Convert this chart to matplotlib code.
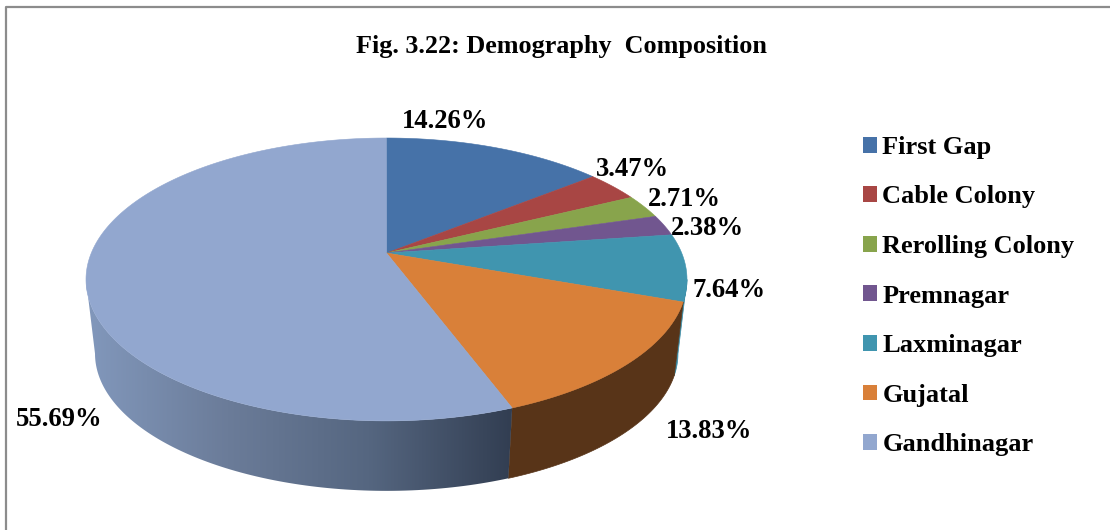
import numpy as np
import matplotlib
matplotlib.use('Agg')
import matplotlib.pyplot as plt
from matplotlib.colors import LinearSegmentedColormap
from matplotlib.patches import Patch, Polygon

names = ['First Gap', 'Cable Colony', 'Rerolling Colony', 'Premnagar',
         'Laxminagar', 'Gujatal', 'Gandhinagar']
shares = [14.26, 3.47, 2.71, 2.38, 7.64, 13.83, 55.69]
colors = ['#4672A8', '#A84644', '#88A44C', '#71568F', '#4095AF', '#D98039', '#92A7CF']
label_xy = [(445.5, 122), (632.5, 169.5), (684.5, 199.5), (707.5, 228.5), (729.5, 290.5), (709.5, 431.5), (59.5, 419.5)]

plt.rcParams['font.family'] = ['Liberation Serif', 'DejaVu Serif']

TILT = 0.187


# tilted disc, points nearer the viewer spread out more
def disc(theta, cy=253.0, scale=1.0):
    x, y = np.sin(theta), np.cos(theta)
    w = 1 + TILT * y
    return np.column_stack((386.5 + scale * 295.2 * x / w, cy - scale * 136.5 * y / w))


def arc(start, end):
    return np.linspace(start, end, max(int((end - start) * 60), 2))


def wall(start, end):
    t = arc(start, end)
    return np.vstack((disc(t), disc(t[::-1], cy=328, scale=0.97)))


fig = plt.figure(figsize=(11.1, 5.3), dpi=100)
ax = fig.add_axes([0, 0, 1, 1])
ax.set_xlim(0, 1110)
ax.set_ylim(530, 0)
ax.axis('off')

# frame, only top and left are in the crop
ax.plot([6, 6, 1110], [530, 7, 7], color='#8c8c8c', lw=1.6)

edges = np.cumsum([0] + shares) / 100 * 2 * np.pi
# where the rim turns away from the viewer
right_turn = np.arccos(-TILT)
left_turn = 2 * np.pi - right_turn

# side walls
ax.add_patch(Polygon(wall(right_turn, edges[5]), closed=True, fc='#3b8aa3', ec='#3b8aa3', lw=0.5, zorder=2))
ax.add_patch(Polygon(wall(edges[5], edges[6]), closed=True, fc='#583418', ec='#583418', lw=0.5, zorder=2))

clip = Polygon(wall(edges[6], left_turn), closed=True, fc='none', ec='none', transform=ax.transData)
ax.add_patch(clip)
wall_cmap = LinearSegmentedColormap.from_list('wall', ['#8298BC', '#6B7C99', '#556680', '#323E52'])
im = ax.imshow(np.linspace(0, 1, 256)[None, :], cmap=wall_cmap, extent=(85, 512, 495, 270),
               aspect='auto', zorder=2)
im.set_clip_path(clip)
ax.set_xlim(0, 1110)
ax.set_ylim(530, 0)

# top face
apex = np.array([[386.5, 253.0]])
for i, c in enumerate(colors):
    pts = np.vstack((apex, disc(arc(edges[i], edges[i + 1]))))
    ax.add_patch(Polygon(pts, closed=True, fc=c, ec=c, lw=0.4, zorder=3))

# labels
for s, (x, y) in zip(shares, label_xy):
    ax.text(x, y, f'{s:.2f}%', fontsize=19.2, fontweight='bold', ha='center', va='center',
            color='black', zorder=5)

ax.text(561, 46, 'Fig. 3.22: Demography  Composition', fontsize=18.8, fontweight='bold',
        ha='center', va='center')

handles = [Patch(fc=c, ec=c, lw=0) for c in colors]
ax.legend(handles, names, loc='upper left', bbox_to_anchor=(855 / 1110, 1 - 128 / 530), frameon=False,
          prop={'size': 19, 'weight': 'bold'}, handlelength=0.55, handleheight=0.55,
          handletextpad=0.19, labelspacing=1.007, borderaxespad=0, borderpad=0.3)

plt.savefig('out.png', dpi=100)
